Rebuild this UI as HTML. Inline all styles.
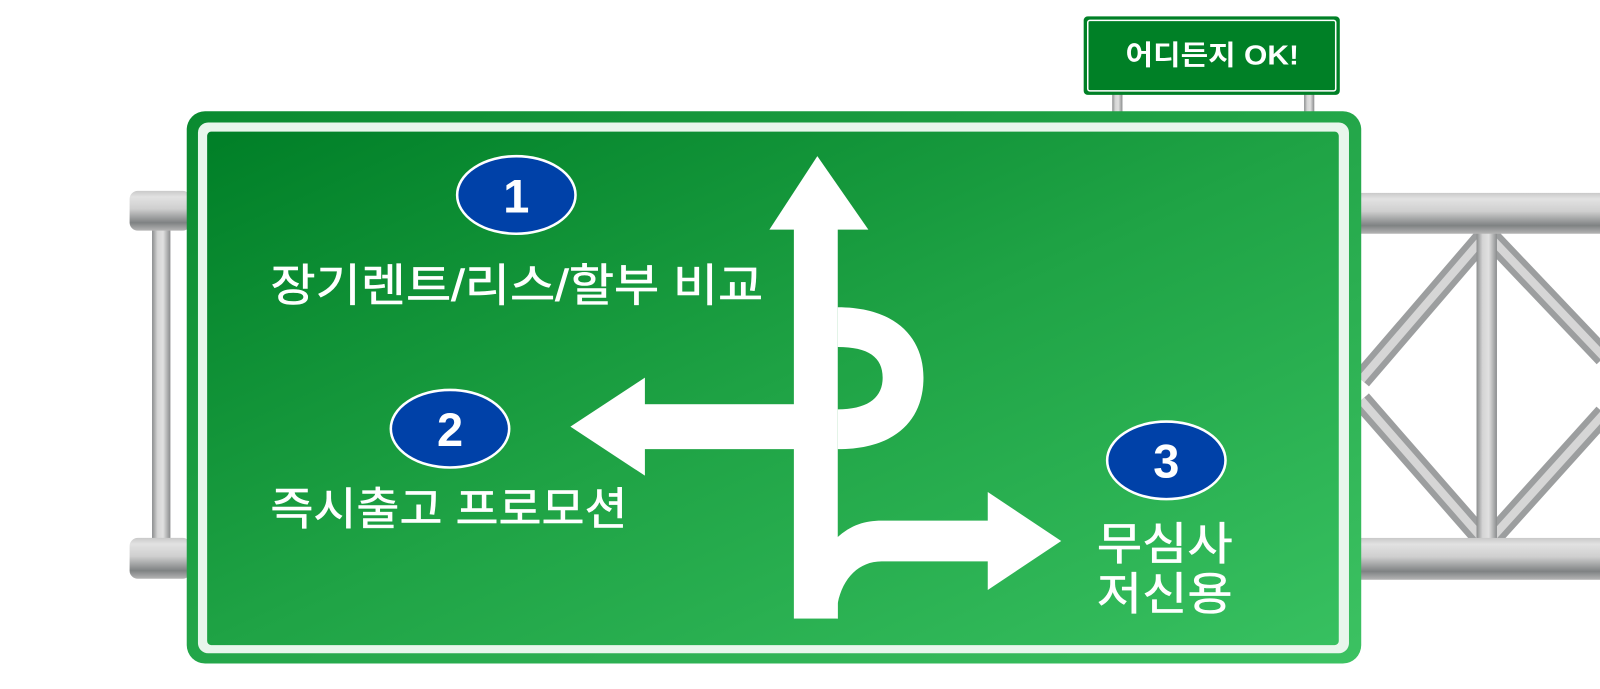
<!DOCTYPE html>
<html><head><meta charset="utf-8"><style>
html,body{margin:0;padding:0;background:#fff;}
svg{display:block;}
text{font-family:"Liberation Sans","Noto Sans CJK KR",sans-serif;}
</style></head><body>
<svg width="1600" height="689" viewBox="0 0 1568 675" preserveAspectRatio="none" xmlns="http://www.w3.org/2000/svg">
<defs>
<linearGradient id="pipeH" x1="0" y1="0" x2="0" y2="1">
<stop offset="0" stop-color="#c9c9c9"/><stop offset="0.15" stop-color="#e2e2e2"/><stop offset="0.45" stop-color="#cfcfcf"/><stop offset="0.8" stop-color="#7f8283"/><stop offset="1" stop-color="#b5b5b5"/>
</linearGradient>
<linearGradient id="pipeV" x1="0" y1="0" x2="1" y2="0">
<stop offset="0" stop-color="#8a8c8d"/><stop offset="0.3" stop-color="#d5d5d5"/><stop offset="0.6" stop-color="#e0e0e0"/><stop offset="1" stop-color="#8a8c8d"/>
</linearGradient>
<linearGradient id="g" x1="0" y1="0" x2="1" y2="1">
<stop offset="0" stop-color="#007f27"/><stop offset="0.5" stop-color="#1fa345"/><stop offset="1" stop-color="#37c060"/>
</linearGradient>
<linearGradient id="go" x1="0" y1="0" x2="1" y2="1">
<stop offset="0" stop-color="#0a8a30"/><stop offset="1" stop-color="#3cc262"/>
</linearGradient>
</defs>

<!-- left pipes -->
<rect x="149" y="222" width="18" height="308" fill="url(#pipeV)"/>
<rect x="127" y="187" width="60" height="39" rx="8" fill="url(#pipeH)"/>
<rect x="127" y="527" width="60" height="40" rx="8" fill="url(#pipeH)"/>

<!-- right truss -->
<g stroke-linecap="butt">
<line x1="1457" y1="229" x2="1334" y2="372" stroke="#9c9e9f" stroke-width="20"/>
<line x1="1457" y1="229" x2="1334" y2="372" stroke="#d6d6d6" stroke-width="8"/>
<line x1="1457" y1="229" x2="1572" y2="350" stroke="#9c9e9f" stroke-width="20"/>
<line x1="1457" y1="229" x2="1572" y2="350" stroke="#d6d6d6" stroke-width="8"/>
<line x1="1334" y1="392" x2="1452" y2="527" stroke="#9c9e9f" stroke-width="20"/>
<line x1="1334" y1="392" x2="1452" y2="527" stroke="#d6d6d6" stroke-width="8"/>
<line x1="1572" y1="405" x2="1462" y2="527" stroke="#9c9e9f" stroke-width="20"/>
<line x1="1572" y1="405" x2="1462" y2="527" stroke="#d6d6d6" stroke-width="8"/>
</g>
<rect x="1447" y="225" width="20" height="305" fill="url(#pipeV)"/>
<rect x="1330" y="189" width="238" height="40" fill="url(#pipeH)"/>
<rect x="1330" y="527" width="238" height="41" fill="url(#pipeH)"/>

<!-- small sign posts -->
<rect x="1090" y="90" width="10" height="22" fill="url(#pipeV)"/>
<rect x="1278" y="90" width="10" height="22" fill="url(#pipeV)"/>
<!-- small sign -->
<rect x="1062" y="16" width="251" height="77" rx="4" fill="#008026"/>
<rect x="1066" y="20" width="243" height="69" rx="2" fill="none" stroke="#fff" stroke-width="1.5"/>
<text x="1188" y="63" fill="#fff" font-size="27" font-weight="bold" text-anchor="middle" textLength="170" lengthAdjust="spacingAndGlyphs">어디든지 OK!</text>

<!-- main sign -->
<rect x="183" y="109" width="1151" height="541" rx="18" fill="url(#go)"/>
<rect x="194" y="120" width="1128" height="520" rx="10" fill="#e8f6ec"/>
<rect x="203" y="129" width="1109" height="503" rx="4" fill="url(#g)"/>

<!-- arrows -->
<g fill="#fff">
<rect x="778" y="224" width="43" height="382"/>
<polygon points="801,153 754,225 851,225"/>
<rect x="631" y="396" width="148" height="44"/>
<polygon points="559,418 632,370 632,466"/>
<path d="M821,301 C877,301 905,330 905,370 C905,412 877,440 821,440 L821,401 C850,401 865,390 865,370 C865,350 851,340 821,340 Z"/>
<path d="M820,527 C834,514 848,510 864,510 L968,510 L968,482 L1040,530 L968,578 L968,550 L864,550 C842,550 826,566 821,591 L821,606 L820,606 Z"/>
</g>

<!-- ellipses -->
<g stroke="#fff" stroke-width="2.5" fill="#0041a8">
<ellipse cx="506" cy="191" rx="58" ry="38"/>
<ellipse cx="441" cy="420" rx="58" ry="38"/>
<ellipse cx="1143" cy="451" rx="58" ry="38"/>
</g>
<g fill="#fff" font-size="46" font-weight="bold" text-anchor="middle">
<text x="506" y="208">1</text>
<text x="441" y="437">2</text>
<text x="1143" y="468">3</text>
</g>

<!-- labels -->
<g fill="#fff" font-size="44" stroke="#fff" stroke-width="0.6">
<text x="265" y="295" textLength="483" lengthAdjust="spacingAndGlyphs">장기렌트/리스/할부 비교</text>
<text x="265" y="514" textLength="350" lengthAdjust="spacingAndGlyphs">즉시출고 프로모션</text>
<text x="1075" y="548" textLength="133" lengthAdjust="spacingAndGlyphs">무심사</text>
<text x="1075" y="597" textLength="133" lengthAdjust="spacingAndGlyphs">저신용</text>
</g>
</svg>
</body></html>
